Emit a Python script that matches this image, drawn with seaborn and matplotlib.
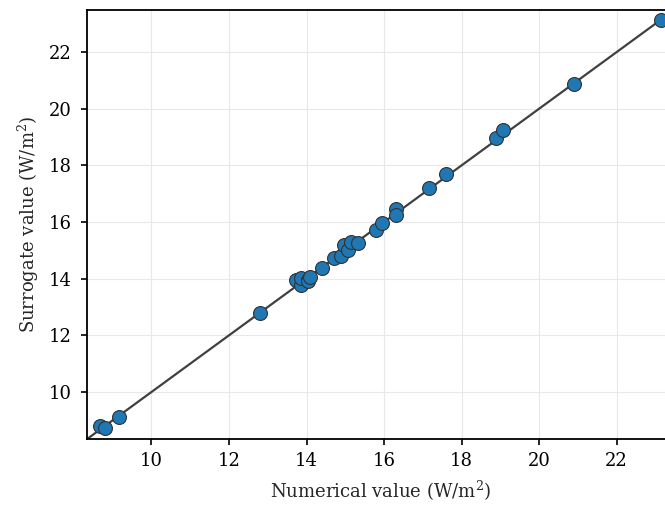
import numpy as np
import pandas as pd
import matplotlib
matplotlib.use("Agg")
import matplotlib.pyplot as plt
import seaborn as sns

numerical = [8.66, 8.81, 9.17, 12.79, 13.74, 13.85, 13.87, 14.03, 14.05, 14.10, 14.39,
             14.72, 14.90, 14.98, 15.08, 15.16, 15.32, 15.78, 15.96, 16.30, 16.30,
             17.17, 17.59, 18.88, 19.06, 20.89, 23.14]
surrogate = [8.80, 8.73, 9.12, 12.79, 13.95, 13.78, 14.02, 13.95, 13.93, 14.06, 14.38,
             14.73, 14.80, 15.19, 15.01, 15.29, 15.26, 15.72, 15.96, 16.46, 16.25,
             17.20, 17.70, 18.97, 19.25, 20.87, 23.13]
lims = [8.34, 23.48]
xticks = [10, 12, 14, 16, 18, 20, 22]
yticks = [10, 12, 14, 16, 18, 20, 22]

df = pd.DataFrame({"num": numerical, "sur": surrogate})

sns.set_style("white")
plt.rcParams["font.family"] = ["DejaVu Serif"]
plt.rcParams["mathtext.fontset"] = "dejavuserif"

fig = plt.figure(figsize=(6.65, 5.09), dpi=100)
ax = fig.add_axes([0.131, 0.1375, 0.8825, 0.8425])

ax.plot(lims, lims, color="#404040", lw=1.6, zorder=2)
sns.scatterplot(data=df, x="num", y="sur", ax=ax, s=100, color="#1f77b4",
                edgecolor="#333333", linewidth=0.8, zorder=3)

ax.set_xlim(lims)
ax.set_ylim(lims)
ax.set_xticks(xticks)
ax.set_yticks(yticks)
ax.grid(True, color="#e8e8e8", lw=0.8)
ax.set_axisbelow(True)
for sp in ax.spines.values():
    sp.set_color("black")
    sp.set_linewidth(1.3)
ax.tick_params(axis="both", direction="out", length=4.5, width=1.2, labelsize=13,
               left=True, bottom=True, colors="black")
ax.tick_params(axis="y", pad=6.5)
ax.tick_params(axis="x", pad=4.5)
ax.set_xlabel("Numerical value (W/m$^2$)", fontsize=13, labelpad=7)
ax.set_ylabel("Surrogate value (W/m$^2$)", fontsize=13, labelpad=6)

fig.savefig("out.png", dpi=100)
